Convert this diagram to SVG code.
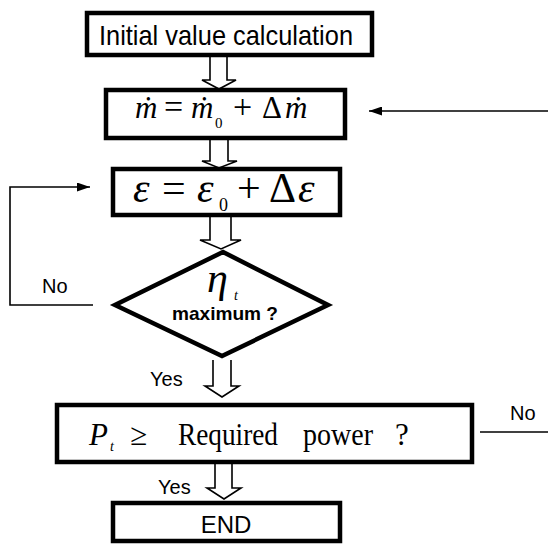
<svg xmlns="http://www.w3.org/2000/svg" width="548" height="544" viewBox="0 0 548 544">
<defs>
<style>
.box{fill:#fff;stroke:#000;stroke-width:4.5}
.hollow{fill:#fff;stroke:#000;stroke-width:1.6;stroke-linejoin:miter}
.line{fill:none;stroke:#000;stroke-width:1.6}
.sans{font-family:"Liberation Sans",Arial,sans-serif;fill:#000}
.serif{font-family:"Liberation Serif","Times New Roman","DejaVu Serif",serif;fill:#000}
.it{font-style:italic}
</style>
<marker id="ah" markerWidth="13" markerHeight="9" refX="13" refY="4.5" orient="auto" markerUnits="userSpaceOnUse"><path d="M0,0 L13,4.5 L0,9 z" fill="#000"/></marker>
</defs>
<rect width="548" height="544" fill="#fff"/>

<g id="connectors">
<path class="hollow" d="M210,56 V80 H202 L219,89 L236,80 H227 V56"/>
<path class="hollow" d="M210,138 V161 H202 L219,168 L237,161 H228 V138"/>
<path class="hollow" d="M210,216 V240 H200 L221,249 L241,240 H231 V216"/>
<path class="hollow" d="M213,360 V386 H205 L222,397 L239,386 H231 V360"/>
<path class="hollow" d="M215,463 V488 H207 L224,499 L241,488 H232 V463"/>
<path class="line" d="M548,111 H369" marker-end="url(#ah)"/>
<path class="line" d="M93,305 H10 V187 H90" marker-end="url(#ah)"/>
<path class="line" d="M480,432 H548"/>
<text class="sans" x="42" y="293" font-size="20">No</text>
<text class="sans" x="510" y="420" font-size="20">No</text>
<text class="sans" x="150" y="386" font-size="20">Yes</text>
<text class="sans" x="158" y="494" font-size="20">Yes</text>
</g>

<g id="init">
<rect class="box" x="87" y="13" width="285" height="42"/>
<text class="sans" x="99" y="45" font-size="28" textLength="254" lengthAdjust="spacingAndGlyphs">Initial value calculation</text>
</g>

<g id="mdot">
<rect class="box" x="106" y="90" width="239" height="48"/>
<text class="serif" y="118" font-size="31"><tspan class="it" x="135">ṁ</tspan><tspan x="164" font-size="34">=</tspan><tspan class="it" x="191">ṁ</tspan><tspan x="215" y="128" font-size="15">0</tspan><tspan x="233" y="118" font-size="34">+</tspan><tspan x="262">Δ</tspan><tspan class="it" x="285">ṁ</tspan></text>
</g>

<g id="eps">
<rect class="box" x="113" y="169" width="227" height="46"/>
<text class="serif" y="202" font-size="42"><tspan class="it" x="133">ε</tspan><tspan x="162">=</tspan><tspan class="it" x="197">ε</tspan><tspan x="219" y="211" font-size="18">0</tspan><tspan x="237" y="202">+</tspan><tspan x="269">Δ</tspan><tspan class="it" x="298">ε</tspan></text>
</g>

<g id="eta">
<polygon points="223,252 328,305 222,356 115,305" fill="#fff" stroke="#000" stroke-width="4.5" stroke-linejoin="miter"/>
<text class="serif it" x="207" y="292" font-size="42">η</text>
<text class="serif it" x="234" y="300" font-size="14">t</text>
<text class="sans" x="172" y="320" font-size="19" font-weight="bold" textLength="106" lengthAdjust="spacingAndGlyphs">maximum ?</text>
</g>

<g id="power">
<rect class="box" x="57" y="405" width="415" height="57"/>
<text class="serif" y="445" font-size="31"><tspan class="it" x="89">P</tspan><tspan class="it" x="110" y="451" font-size="14">t</tspan><tspan x="130" y="445">≥</tspan></text>
<text class="serif" x="178" y="445" font-size="31" textLength="100" lengthAdjust="spacingAndGlyphs">Required</text>
<text class="serif" x="303" y="445" font-size="31" textLength="70" lengthAdjust="spacingAndGlyphs">power</text>
<text class="serif" x="395" y="445" font-size="31">?</text>
</g>

<g id="end">
<rect class="box" x="113" y="503" width="227" height="38"/>
<text class="sans" x="226" y="533" font-size="24" text-anchor="middle">END</text>
</g>
</svg>
